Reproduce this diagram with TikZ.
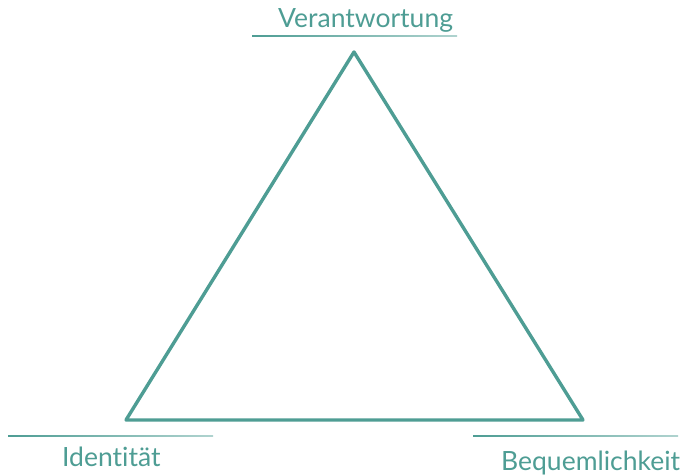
\documentclass[tikz,border=0pt]{standalone}
\usepackage{fontspec}
\setmainfont[Ligatures=NoCommon]{Lato}
\definecolor{teal1}{RGB}{78,157,148}
\begin{document}
\begin{tikzpicture}[x=1pt,y=1pt,
  lbl/.style={text=teal1,font=\fontsize{26.5}{30}\selectfont,inner sep=0pt,anchor=base west},
  edge/.style={draw=teal1,line width=3.4pt,line join=round}]
\useasboundingbox (0,0) rectangle (681,476);
\coordinate (T) at (354,424);
\coordinate (L) at (126,56);
\coordinate (R) at (583,56);
\draw[edge] (T) -- (L) -- (R) -- cycle;
\shade[left color=teal1,right color=teal1!45] (252,439.3) rectangle (457,440.7);
\shade[left color=teal1,right color=teal1!45] (8,39.3) rectangle (213,40.7);
\shade[left color=teal1,right color=teal1!45] (473,39.3) rectangle (678,40.7);
\node[lbl] (v) at (278,448) {Verantwortung};
\node[lbl] (i) at (62,9) {Identität};
\node[lbl] (b) at (501,5) {Bequemlichkeit};
\end{tikzpicture}
\end{document}
